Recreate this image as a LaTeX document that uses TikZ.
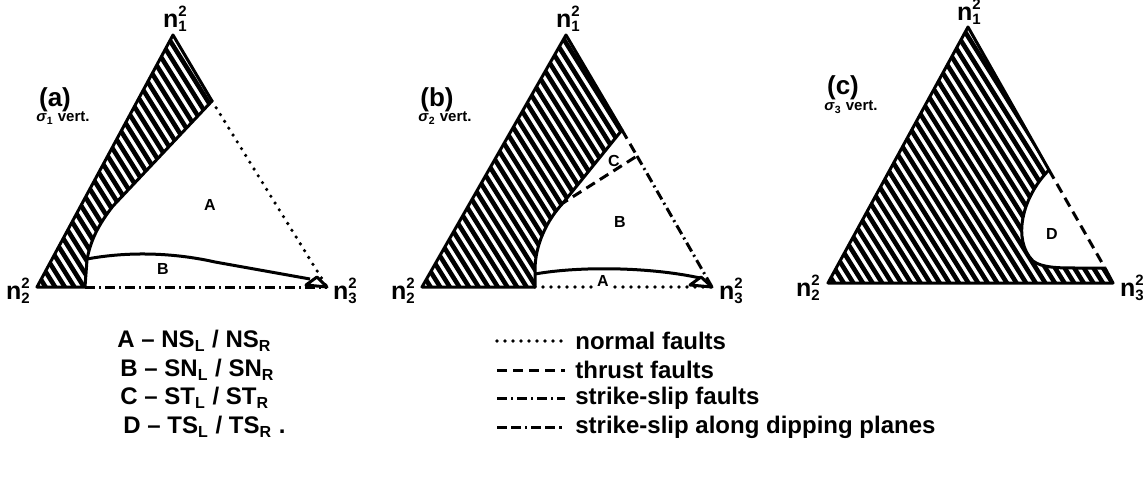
\documentclass[tikz,border=0pt]{standalone}
\usepackage{fontspec}
\setmainfont{Liberation Sans}
\usetikzlibrary{calc}

\newcommand{\nv}[1]{n\rlap{\raisebox{0.8ex}{\fontsize{7.5}{8}\selectfont 2}}\raisebox{-0.3ex}{\fontsize{7.5}{8}\selectfont #1}}
\newcommand{\sv}[1]{\textit{σ}\textsubscript{#1} vert.}
\newcommand{\hatching}[1]{%
  \foreach \k in {0,...,58} \draw[hatch] (#1-190+\k*9.6, 0) -- ++(300,480);}

\begin{document}
\begin{tikzpicture}[x=0.5pt, y=-0.5pt,
  every node/.style={font=\bfseries, inner sep=1pt},
  edge/.style={line width=1.5pt, line join=round},
  hatch/.style={line width=2.3pt},
  normalf/.style={line width=1.8pt, line cap=round, dash pattern=on 0pt off 4pt},
  thrustf/.style={line width=1.5pt, dash pattern=on 5pt off 3pt},
  strikef/.style={line width=1.5pt, dash pattern=on 5pt off 2pt on 1pt off 2pt},
  dipf/.style={line width=1.5pt, dash pattern=on 5pt off 2pt on 5pt off 2pt on 1.2pt off 2pt},
  vlab/.style={font=\fontsize{12.5}{14}\selectfont\bfseries},
  plab/.style={font=\fontsize{13}{15}\selectfont\bfseries},
  slab/.style={font=\fontsize{7.5}{9}\selectfont\bfseries},
  rlab/.style={font=\fontsize{8}{9}\selectfont\bfseries},
  leg/.style={font=\fontsize{12}{14}\selectfont\bfseries, anchor=west},
]
\useasboundingbox (0,0) rectangle (1147,492);

% (a) sigma 1 vertical
\coordinate (aL) at (37,287);
\coordinate (aR) at (327,287);
\coordinate (aT) at (173,35);
\coordinate (p1) at (212,101);
\coordinate (b1) at (85,287);
\begin{scope}
  \clip (aL) -- (aT) -- (p1) -- (113,206) .. controls (98,225) and (90,242) .. (87,260) -- (b1) -- cycle;
  \hatching{37}
\end{scope}
\draw[edge] (b1) -- (aL) -- (aT) -- (p1) -- (113,206) .. controls (98,225) and (90,242) .. (87,260) -- (b1);
\draw[normalf] (p1) -- (aR);
\draw[strikef] (b1) -- (aR);
\draw[edge] (87,259) .. controls (130,251) and (175,253) .. (215,262) -- (310,279);
\draw[edge, fill=white] (306,285) -- (317,277) -- (aR) -- cycle;

\node[vlab] (a1) at (175,19) {\nv{1}};
\node[vlab] (a2) at (18,291) {\nv{2}};
\node[vlab] (a3) at (345,291) {\nv{3}};
\node[plab] (pa) at (55,100) {(a)};
\node[slab] (sa) at (63,118) {\sv{1}};
\node[rlab] (ra) at (210,205) {A};
\node[rlab] (rb) at (163,269) {B};

% (b) sigma 2 vertical
\coordinate (bL) at (422,287);
\coordinate (bR) at (712,287);
\coordinate (bT) at (566,35);
\coordinate (p2) at (622,130);
\coordinate (q2) at (637,156);
\coordinate (m2) at (563,203);
\coordinate (b2) at (535,287);
\begin{scope}
  \clip (bL) -- (bT) -- (p2) -- (m2) .. controls (547,220) and (535,245) .. (535,270) -- (b2) -- cycle;
  \hatching{422}
\end{scope}
\draw[edge] (b2) -- (bL) -- (bT) -- (p2) -- (m2) .. controls (547,220) and (535,245) .. (535,270) -- (b2);
\draw[thrustf] (p2) -- (q2) -- (m2);
\draw[strikef] (q2) -- (bR);
\draw[normalf] (b2) -- (bR);
\draw[edge] (535,274) .. controls (580,266) and (650,267) .. (700,278);
\draw[edge, fill=white] (690,285) -- (701,277) -- (bR) -- cycle;

\node[vlab] (b1n) at (568,19) {\nv{1}};
\node[vlab] (b2n) at (403,291) {\nv{2}};
\node[vlab] (b3n) at (731,291) {\nv{3}};
\node[plab] (pb) at (437,100) {(b)};
\node[slab] (sb) at (445,118) {\sv{2}};
\node[rlab] (rc) at (614,161) {C};
\node[rlab] (rb2) at (620,222) {B};
\node[rlab, fill=white] (ra2) at (603,281) {A};

% (c) sigma 3 vertical
\coordinate (cL) at (828,283);
\coordinate (cR) at (1113,283);
\coordinate (cT) at (968,27);
\coordinate (p3) at (1049,170);
\coordinate (q3) at (1105,268);
\begin{scope}
  \clip (cL) -- (cT) -- (p3) .. controls (1022,197) and (1012,240) .. (1033,261) .. controls (1042,268) and (1060,268) .. (1075,268) -- (q3) -- (cR) -- cycle;
  \hatching{828}
\end{scope}
\draw[edge] (q3) -- (cR) -- (cL) -- (cT) -- (p3) .. controls (1022,197) and (1012,240) .. (1033,261) .. controls (1042,268) and (1060,268) .. (1075,268) -- (q3);
\draw[thrustf] (p3) -- (q3);

\node[vlab] (c1n) at (969,12) {\nv{1}};
\node[vlab] (c2n) at (808,288) {\nv{2}};
\node[vlab] (c3n) at (1132,288) {\nv{3}};
\node[plab] (pc) at (843,88) {(c)};
\node[slab] (sc) at (851,107) {\sv{3}};
\node[rlab] (rd) at (1052,234) {D};

% legend
\node[leg] (ka) at (115,341) {A -- NS\textsubscript{L} / NS\textsubscript{R}};
\node[leg] (kb) at (118,370) {B -- SN\textsubscript{L} / SN\textsubscript{R}};
\node[leg] (kc) at (118,398) {C -- ST\textsubscript{L} / ST\textsubscript{R}};
\node[leg] (kd) at (121,427) {D -- TS\textsubscript{L} / TS\textsubscript{R} .};

\coordinate (s1) at (497,341);
\coordinate (s2) at (497,370);
\coordinate (s3) at (497,398);
\coordinate (s4) at (497,427);
\node[leg] (t1) at (573,341) {normal faults};
\node[leg] (t2) at (573,370) {thrust faults};
\node[leg] (t3) at (573,398) {strike-slip faults};
\node[leg] (t4) at (573,427) {strike-slip along dipping planes};
\draw[normalf] (s1) -- ([xshift=-4pt]t1.west);
\draw[thrustf] (s2) -- ([xshift=-4pt]t2.west);
\draw[strikef] (s3) -- ([xshift=-4pt]t3.west);
\draw[dipf] (s4) -- ([xshift=-4pt]t4.west);

\end{tikzpicture}
\end{document}
